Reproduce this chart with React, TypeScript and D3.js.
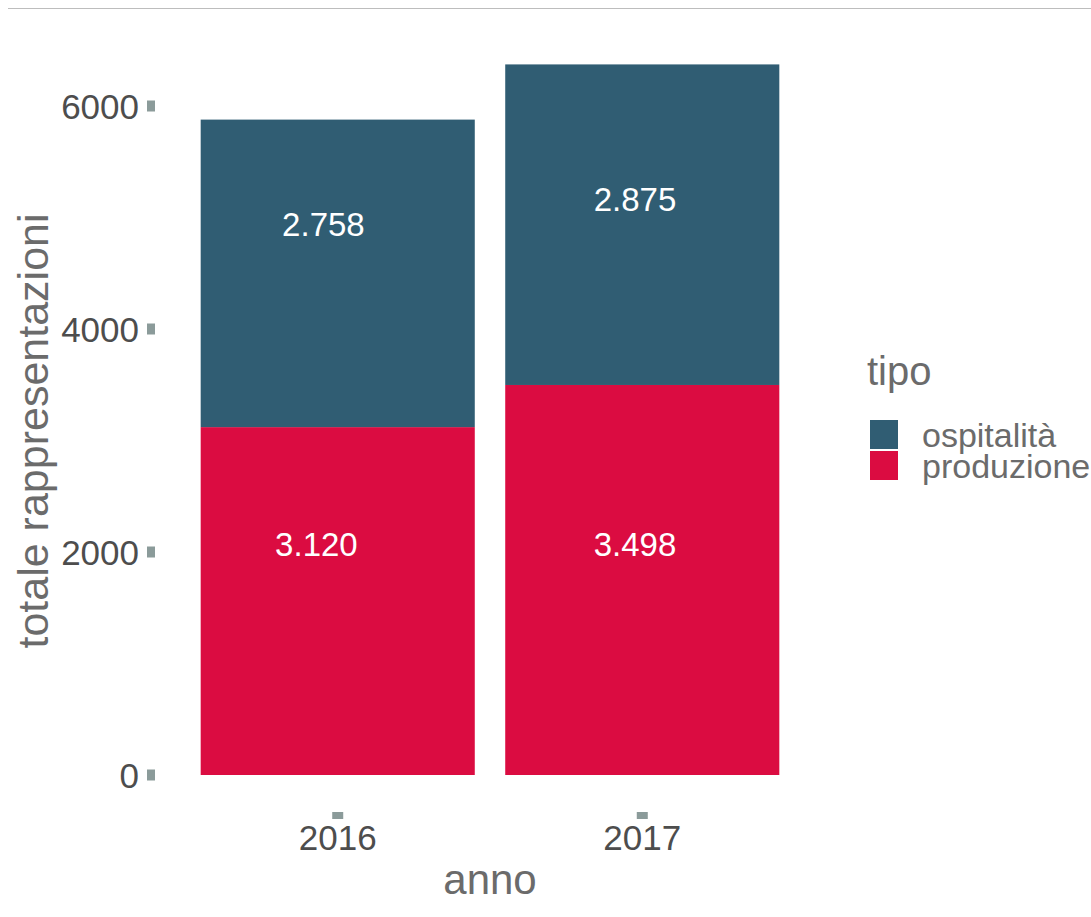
import React from "react";
import * as d3 from "d3";

const years = ["2016", "2017"];
const tipi = ["produzione", "ospitalità"];
const produzione = [3120, 3498];
const ospitalita = [2758, 2875];
const labelYProduzione = [2063, 2063];
const labelYOspitalita = [4937, 5157];
const labelXProduzione = [0.93, 1.976];
const labelXOspitalita = [0.953, 1.976];
const yTicks = [0, 2000, 4000, 6000];
const colors: Record<string, string> = { "ospitalità": "#305d73", produzione: "#db0c41" };
const legendOrder = ["ospitalità", "produzione"];

const fmt = (v: number) => d3.format(",")(v).replace(/,/g, ".");

export default function App() {
  const W = 1091, H = 917;
  const x = d3.scaleLinear().domain([0.4, 2.6]).range([155, 825]);
  const y = d3.scaleLinear().domain([0, 6000]).range([775, 106]);
  const font = "'Liberation Sans', Arial, Helvetica, sans-serif";
  const stack = d3.stack<any>().keys(tipi)(
    years.map((yr, i) => ({ year: yr, produzione: produzione[i], "ospitalità": ospitalita[i] }))
  );
  const labelsY = [labelYProduzione, labelYOspitalita];
  const labelsX = [labelXProduzione, labelXOspitalita];
  const values = [produzione, ospitalita];
  return (
    <div style={{ position: "absolute", left: 0, top: 0 }}>
      <svg width={W} height={H} style={{ display: "block", background: "#fff" }}>
        <line x1={8} x2={W} y1={8.5} y2={8.5} stroke="#bdbdbd" strokeWidth={1} />
        {stack.map((s, si) =>
          s.map((d, i) => {
            const x0 = x(i + 1 - 0.45), x1 = x(i + 1 + 0.45);
            return (
              <rect key={tipi[si] + i} x={x0} width={x1 - x0} y={y(d[1])} height={y(d[0]) - y(d[1])}
                fill={colors[tipi[si]]} />
            );
          })
        )}
        {stack.map((s, si) =>
          s.map((d, i) => (
            <text key={"l" + si + i} x={x(labelsX[si][i])} y={y(labelsY[si][i])} textAnchor="middle"
              dominantBaseline="central" fill="#fff" fontSize={33} fontFamily={font}>
              {fmt(values[si][i])}
            </text>
          ))
        )}
        {yTicks.map((t) => (
          <g key={t}>
            <rect x={147} width={8} y={y(t) - 5.5} height={11} fill="#8b9b9a" />
            <text x={139} y={y(t)} textAnchor="end" dominantBaseline="central" fontSize={35}
              fill="#4d4d4d" fontFamily={font}>{t}</text>
          </g>
        ))}
        {years.map((yr, i) => (
          <g key={yr}>
            <rect x={x(i + 1) - 5.5} width={11} y={812} height={7} fill="#8b9b9a" />
            <text x={x(i + 1)} y={850} textAnchor="middle" fontSize={35} fill="#4d4d4d" fontFamily={font}>{yr}</text>
          </g>
        ))}
        <text x={(x(0.4) + x(2.6)) / 2} y={894} textAnchor="middle" fontSize={42} fill="#6b6b6b" fontFamily={font}>anno</text>
        <text transform={`translate(48,431) rotate(-90)`} x={0} y={0} textAnchor="middle"
          fontSize={43} fill="#6b6b6b" fontFamily={font}>totale rappresentazioni</text>
        <text x={867} y={385} fontSize={40} fill="#6b6b6b" fontFamily={font}>tipo</text>
        {legendOrder.map((k, i) => (
          <g key={k}>
            <rect x={870} y={420 + i * 31} width={28} height={29} fill={colors[k]} />
            <text x={922} y={434.5 + i * 31} dominantBaseline="central" fontSize={34} fill="#6b6b6b" fontFamily={font}>{k}</text>
          </g>
        ))}
      </svg>
    </div>
  );
}
